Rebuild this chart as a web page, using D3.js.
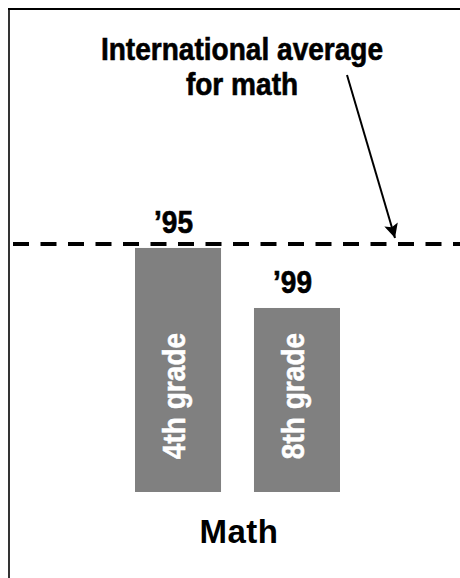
<!DOCTYPE html>
<html>
<head>
<meta charset="utf-8">
<script src="https://cdn.jsdelivr.net/npm/d3@7"></script>
<style>
  html, body { margin: 0; padding: 0; background: #fff; }
  svg { display: block; }
</style>
</head>
<body>
<script>
// ---- data ----
const categories = ["4th grade", "8th grade"];
const yearLabels = ["\u201995", "\u201999"];
const values = [98.4, 74.2];          // bar heights, relative to the international average = 100
const averageValue = 100;
const subjectLabel = "Math";
const annotationLines = ["International average", "for math"];

// ---- layout ----
const W = 460, H = 578;
const condensed = 0.92;
const svg = d3.select("body").append("svg").attr("width", W).attr("height", H);

const x = d3.scaleBand().domain(categories).range([135, 340]).paddingInner(0.277).paddingOuter(0);
const y = d3.scaleLinear().domain([0, 100]).range([492, 244]);

// frame (top and left rules)
svg.append("line").attr("x1", 8).attr("x2", W).attr("y1", 9).attr("y2", 9)
  .attr("stroke", "#000").attr("stroke-width", 2);
svg.append("line").attr("x1", 9).attr("x2", 9).attr("y1", 8).attr("y2", H)
  .attr("stroke", "#000").attr("stroke-width", 1.6);

// bars
svg.selectAll("rect.bar").data(values).join("rect")
  .attr("class", "bar")
  .attr("x", (d, i) => x(categories[i]))
  .attr("y", d => y(d))
  .attr("width", x.bandwidth())
  .attr("height", d => y(0) - y(d))
  .attr("fill", "#808080");

// average dashed line
svg.append("line")
  .attr("x1", 13).attr("x2", W)
  .attr("y1", y(averageValue)).attr("y2", y(averageValue))
  .attr("stroke", "#000").attr("stroke-width", 4)
  .attr("stroke-dasharray", "16,11.5");

const condFont = "'Liberation Sans', Arial, sans-serif";

// year labels above bars
svg.selectAll("text.year").data(values).join("text")
  .attr("class", "year")
  .attr("transform", (d, i) => {
    const cx = x(categories[i]) + x.bandwidth() / 2 - 4.5;
    const cy = y(d) - 15;
    return `translate(${cx},${cy}) scale(${condensed},1)`;
  })
  .attr("text-anchor", "middle")
  .attr("font-family", condFont).attr("font-weight", "bold").attr("font-size", 30.5)
  .attr("fill", "#000").attr("stroke", "#000").attr("stroke-width", 0.6)
  .text((d, i) => yearLabels[i]);

// category labels inside bars (rotated)
svg.selectAll("text.cat").data(categories).join("text")
  .attr("class", "cat")
  .attr("transform", d => {
    const cx = x(d) + x.bandwidth() / 2 + 7;
    return `translate(${cx},396) rotate(-90) scale(${condensed},1)`;
  })
  .attr("text-anchor", "middle")
  .attr("font-family", condFont).attr("font-weight", "bold").attr("font-size", 30.5)
  .attr("fill", "#fff").attr("stroke", "#fff").attr("stroke-width", 0.5)
  .text(d => d);

// annotation
const ann = svg.append("g").attr("transform", `translate(242,0)`);
ann.selectAll("text").data(annotationLines).join("text")
  .attr("transform", (d, i) => `translate(0,${60 + i * 35}) scale(${condensed},1)`)
  .attr("text-anchor", "middle")
  .attr("font-family", condFont).attr("font-weight", "bold").attr("font-size", 30.5)
  .attr("fill", "#000").attr("stroke", "#000").attr("stroke-width", 0.6)
  .text(d => d);

// arrow
const defs = svg.append("defs");
defs.append("marker")
  .attr("id", "arrowhead")
  .attr("viewBox", "0 0 10 10")
  .attr("refX", 10).attr("refY", 5)
  .attr("markerWidth", 12.5).attr("markerHeight", 7)
  .attr("markerUnits", "strokeWidth")
  .attr("orient", "auto")
  .append("path").attr("d", "M0,0 L10,5 L0,10 L2,5 Z").attr("fill", "#000");
svg.append("line")
  .attr("x1", 347).attr("y1", 75).attr("x2", 395).attr("y2", 238)
  .attr("stroke", "#000").attr("stroke-width", 2)
  .attr("marker-end", "url(#arrowhead)");

// subject label
svg.append("text")
  .attr("x", 239).attr("y", 543)
  .attr("text-anchor", "middle")
  .attr("font-family", "'Liberation Sans', Arial, sans-serif").attr("font-weight", "bold")
  .attr("font-size", 33).attr("letter-spacing", 0.5)
  .attr("fill", "#000")
  .text(subjectLabel);
</script>
</body>
</html>
